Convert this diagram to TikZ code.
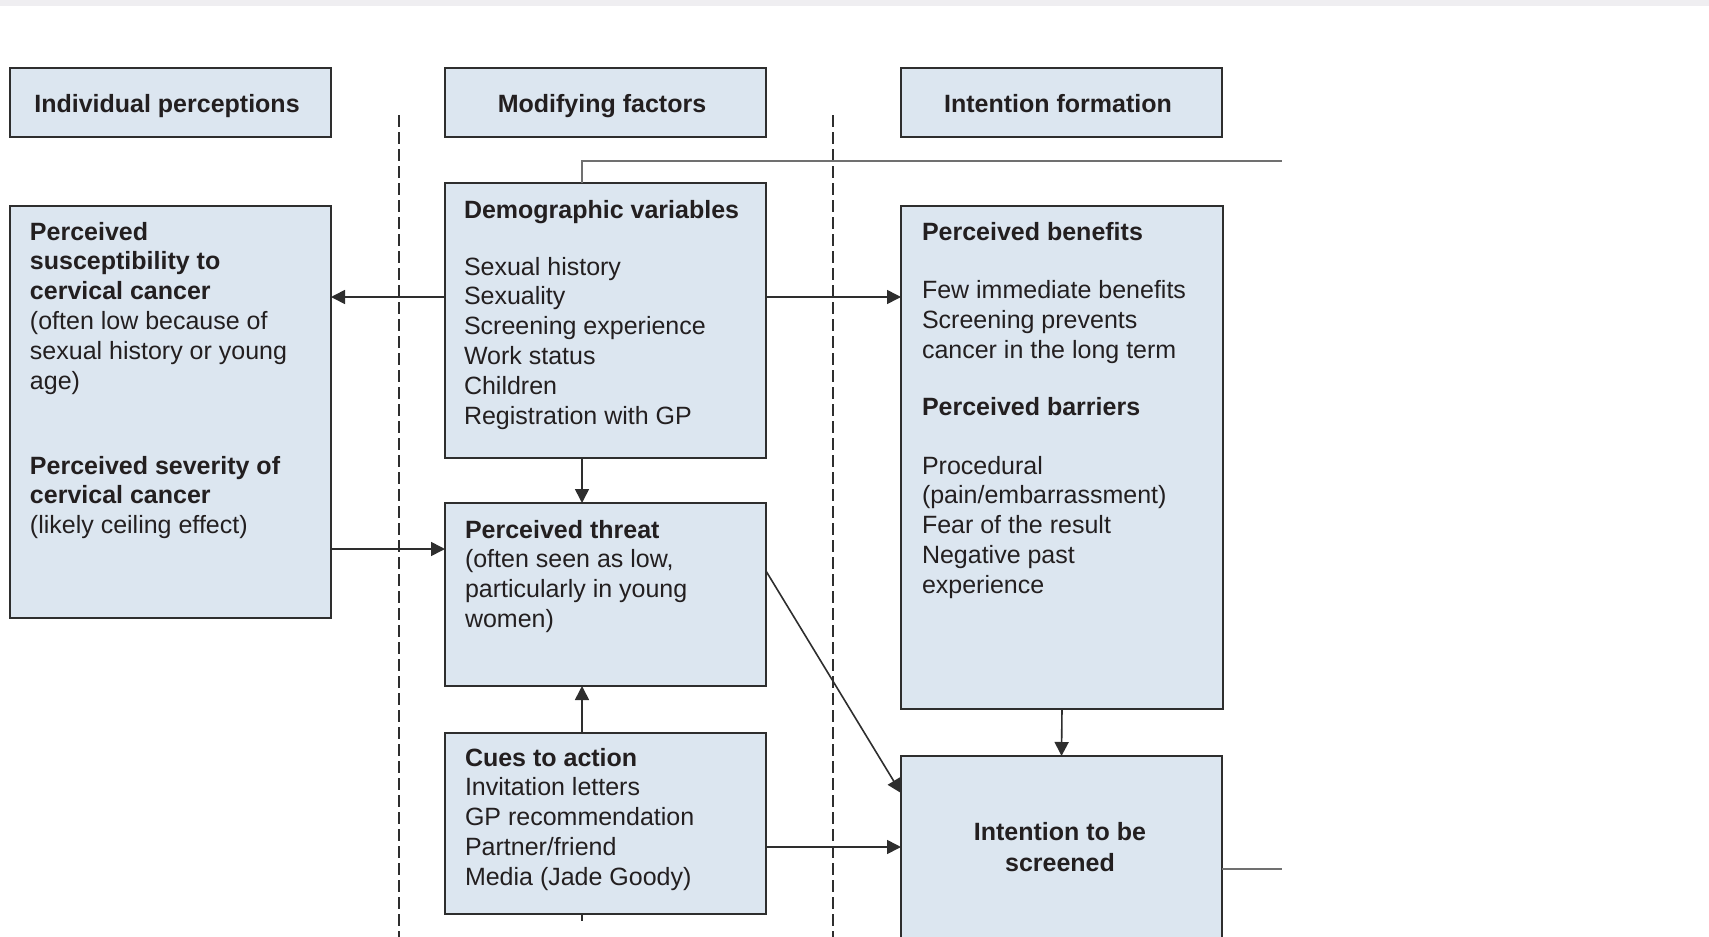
\documentclass[tikz,border=0pt]{standalone}
\usepackage{fontspec}
\setmainfont{Liberation Sans}
\usetikzlibrary{arrows.meta}
\definecolor{boxfill}{HTML}{DCE6F0}
\definecolor{boxdraw}{HTML}{2E2E2E}
\definecolor{ink}{HTML}{231F20}
\definecolor{band}{HTML}{EFEEF1}
\definecolor{greyline}{HTML}{707070}
\newcommand\myleft[1]{\vtop{\halign{##\hfil\cr#1\crcr}}}
\newcommand\mycenter[1]{\vtop{\halign{\hfil##\hfil\cr#1\crcr}}}
\begin{document}
\begin{tikzpicture}[x=1pt,y=-1pt,
  pbox/.style={draw=boxdraw, fill=boxfill, line width=2.2pt, rectangle, inner sep=0pt, outer sep=0pt, anchor=north west},
  txt/.style={inner sep=0pt, outer sep=0pt, anchor=base west, text=ink, font=\fontsize{25pt}{29.8pt}\selectfont},
  arr/.style={draw=boxdraw, line width=1.6pt, -{Triangle[length=14pt,width=14pt]}},
  dashln/.style={draw=boxdraw, line width=1.3pt, dash pattern=on 12pt off 5pt},
  greyln/.style={draw=greyline, line width=1.8pt}]
\useasboundingbox (0,0) rectangle (1709,937);
\clip (0,0) rectangle (1709,937);
\fill[band] (0,0) rectangle (1709,6);

% column separators
\draw[dashln] (399,115) -- (399,945);
\draw[dashln] (833,115) -- (833,945);

% helper coordinates
\coordinate (x582) at (582,0);
\coordinate (y297) at (0,297);
\coordinate (y549) at (0,549);
\coordinate (y571) at (0,571);
\coordinate (y793) at (0,793);
\coordinate (y847) at (0,847);
\coordinate (y869) at (0,869);
\coordinate (tl) at (1282,161);
\coordinate (tr) at (1282,869);

% header boxes
\node[pbox, minimum width=321pt, minimum height=69pt] (hIP) at (10,68) {};
\node[pbox, minimum width=321pt, minimum height=69pt] (hMF) at (445,68) {};
\node[pbox, minimum width=321pt, minimum height=69pt] (hIF) at (901,68) {};
\node[txt, anchor=base] (hIPt) at (167,112) {\bfseries Individual perceptions};
\node[txt, anchor=base] (hMFt) at (602,112) {\bfseries Modifying factors};
\node[txt, anchor=base] (hIFt) at (1058,112) {\bfseries Intention formation};

% content boxes
\node[pbox, minimum width=321pt, minimum height=412pt] (sus) at (10,206) {};
\node[pbox, minimum width=321pt, minimum height=275pt] (dem) at (445,183) {};
\node[pbox, minimum width=322pt, minimum height=503pt] (ben) at (901,206) {};
\node[pbox, minimum width=321pt, minimum height=183pt] (thr) at (445,503) {};
\node[pbox, minimum width=321pt, minimum height=181pt] (cue) at (445,733) {};
\node[pbox, minimum width=321pt, minimum height=214pt] (int) at (901,756) {};

% texts
\node[txt] (sust1) at (30,240) {\myleft{\bfseries Perceived\cr\bfseries susceptibility to\cr\bfseries cervical cancer\cr(often low because of\cr sexual history or young\cr age)}};
\node[txt] (sust2) at (30,474) {\myleft{\bfseries Perceived severity of\cr\bfseries cervical cancer\cr(likely ceiling effect)}};
\node[txt] (demt1) at (464,218) {\bfseries Demographic variables};
\node[txt] (demt2) at (464,275) {\myleft{Sexual history\cr Sexuality\cr Screening experience\cr Work status\cr Children\cr Registration with GP}};
\node[txt] (bent1) at (922,240) {\bfseries Perceived benefits};
\node[txt] (bent2) at (922,298.5) {\myleft{Few immediate benefits\cr Screening prevents\cr cancer in the long term}};
\node[txt] (bent3) at (922,415) {\bfseries Perceived barriers};
\node[txt] (bent4) at (922,474) {\myleft{Procedural\cr(pain/embarrassment)\cr Fear of the result\cr Negative past\cr experience}};
\node[txt] (thrt) at (465,538) {\myleft{\bfseries Perceived threat\cr(often seen as low,\cr particularly in young\cr women)}};
\node[txt] (cuet) at (465,766) {\myleft{\bfseries Cues to action\cr Invitation letters\cr GP recommendation\cr Partner/friend\cr Media (Jade Goody)}};
\node[txt, anchor=base, font=\fontsize{25pt}{31pt}\selectfont] (intt) at (1060,840) {\mycenter{\bfseries Intention to be\cr\bfseries screened}};

% connectors
\draw[greyln] (dem.north -| x582) |- (tl);
\draw[greyln] (int.east |- y869) -- (tr);
\draw[arr] (dem.west |- y297) -- (sus.east |- y297);
\draw[arr] (dem.east |- y297) -- (ben.west |- y297);
\draw[arr] (dem.south -| x582) -- (thr.north -| x582);
\draw[arr] (sus.east |- y549) -- (thr.west |- y549);
\draw[arr] (cue.north -| x582) -- (thr.south -| x582);
\draw[arr] (thr.east |- y571) -- (int.west |- y793);
\draw[arr] (cue.east |- y847) -- (int.west |- y847);
\draw[arr] (ben.south) -- (int.north);
\draw[draw=boxdraw, line width=1.6pt] (cue.south -| x582) -- ++(0,7);
\end{tikzpicture}
\end{document}
